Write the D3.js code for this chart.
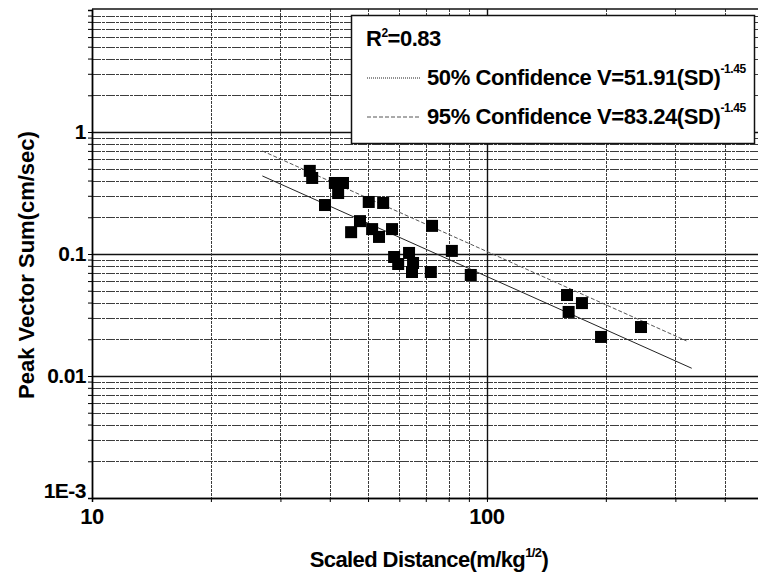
<!DOCTYPE html>
<html>
<head>
<meta charset="utf-8">
<script src="https://cdn.jsdelivr.net/npm/d3@7"></script>
<style>
  body { margin: 0; background: #fff; }
  text { font-family: "Liberation Sans", Arial, sans-serif; fill: #000; }
</style>
</head>
<body>
<script>
// scaled distance (m/kg^1/2) and peak vector sum (cm/sec)
var sdValues = [35.6, 36.1, 41.2, 43.2, 42.0, 38.9, 50.2, 54.6, 47.7, 45.3, 51.2, 53.3, 57.5,
                72.6, 81.5, 58.2, 59.6, 63.5, 65.0, 64.6, 72.1, 91.0, 159.5, 174, 161, 194.5, 245.5];
var pvsValues = [0.48, 0.42, 0.382, 0.382, 0.316, 0.252, 0.267, 0.262, 0.186, 0.151, 0.160, 0.138, 0.160,
                 0.170, 0.106, 0.0945, 0.0828, 0.102, 0.0844, 0.0712, 0.0712, 0.0673, 0.0461, 0.0396, 0.0335, 0.0209, 0.0252];

// fit lines V = k * SD^b, from the legend
var fitNames = ["50% Confidence V=51.91(SD)", "95% Confidence V=83.24(SD)"];
var fitK = [51.91, 83.24];
var fitB = [-1.45, -1.45];
var fitRange = [[27, 330], [27, 320]];

var xTickVals = [10, 100];
var xTickLabels = ["10", "100"];
var yTickVals = [0.001, 0.01, 0.1, 1];
var yTickLabels = ["1E-3", "0.01", "0.1", "1"];

var width = 758, height = 576;
var plotLeft = 92, plotTop = 9, plotBottom = 498;

var svg = d3.select("body").append("svg")
    .attr("width", width)
    .attr("height", height);

var x = d3.scaleLog().domain([10, 500]).range([plotLeft, 763]);
var y = d3.scaleLog().domain([0.001, 10]).range([plotBottom, 10]);

// minor values for the grid
var xMinor = [], yMinor = [];
[10, 100].forEach(function(d) {
    for (var i = 1; i < 10; i++) if (d * i <= 500) xMinor.push(d * i);
});
[0.001, 0.01, 0.1, 1].forEach(function(d) {
    for (var i = 1; i < 10; i++) yMinor.push(+(d * i).toPrecision(3));
});

function isMajor(list, d) { return list.indexOf(d) >= 0; }

var grid = svg.append("g");
grid.selectAll("line.hy")
    .data(yMinor)
    .enter().append("line")
    .attr("class", "hy")
    .attr("x1", plotLeft).attr("x2", width)
    .attr("y1", function(d) { return Math.round(y(d)) + 0.5; })
    .attr("y2", function(d) { return Math.round(y(d)) + 0.5; })
    .attr("stroke", function(d) { return isMajor(yTickVals, d) ? "#111" : "#3c3c3c"; })
    .attr("stroke-width", function(d) { return isMajor(yTickVals, d) ? 1.4 : 1; })
    .attr("stroke-dasharray", function(d) { return isMajor(yTickVals, d) ? null : "9,1,3,1"; });

grid.selectAll("line.vx")
    .data(xMinor)
    .enter().append("line")
    .attr("class", "vx")
    .attr("y1", plotTop).attr("y2", plotBottom)
    .attr("x1", function(d) { return Math.round(x(d)) + 0.5; })
    .attr("x2", function(d) { return Math.round(x(d)) + 0.5; })
    .attr("stroke", function(d) { return isMajor(xTickVals, d) ? "#111" : "#3c3c3c"; })
    .attr("stroke-width", function(d) { return isMajor(xTickVals, d) ? 1.4 : 1; })
    .attr("stroke-dasharray", function(d) { return isMajor(xTickVals, d) ? null : "3,1"; });

// top border
svg.append("line")
    .attr("x1", plotLeft).attr("x2", width)
    .attr("y1", plotTop).attr("y2", plotTop)
    .attr("stroke", "#111").attr("stroke-width", 1.5);

// axes
var yAxis = d3.axisLeft(y).tickValues(yMinor).tickSize(4).tickFormat("");
svg.append("g")
    .attr("transform", "translate(" + plotLeft + ",0)")
    .call(yAxis)
    .call(function(g) {
        g.select(".domain").attr("stroke-width", 1.5);
    });

var xAxis = d3.axisBottom(x).tickValues(xMinor).tickSize(4).tickFormat("");
svg.append("g")
    .attr("transform", "translate(0," + plotBottom + ")")
    .call(xAxis)
    .call(function(g) {
        g.select(".domain").attr("stroke-width", 1.5);
    });

svg.selectAll("text.ylab")
    .data(yTickVals)
    .enter().append("text")
    .attr("class", "ylab")
    .attr("x", plotLeft - 6)
    .attr("y", function(d, i) { return y(d) + (i == 0 ? 0 : 7); })
    .attr("text-anchor", "end")
    .style("font-size", "21px").style("font-weight", "bold")
    .style("letter-spacing", "-0.5px")
    .text(function(d, i) { return yTickLabels[i]; });

svg.selectAll("text.xlab")
    .data(xTickVals)
    .enter().append("text")
    .attr("class", "xlab")
    .attr("x", function(d) { return x(d); })
    .attr("y", plotBottom + 26)
    .attr("text-anchor", "middle")
    .style("font-size", "22px").style("font-weight", "bold")
    .style("letter-spacing", "-0.5px")
    .text(function(d, i) { return xTickLabels[i]; });

// axis titles
var xt = svg.append("text")
    .attr("x", 429).attr("y", 567)
    .attr("text-anchor", "middle")
    .style("font-size", "22px").style("font-weight", "bold")
    .style("letter-spacing", "-0.6px");
xt.append("tspan").text("Scaled Distance(m/kg");
xt.append("tspan").attr("dy", -10).style("font-size", "13px").text("1/2");
xt.append("tspan").attr("dy", 10).text(")");

svg.append("text")
    .attr("transform", "translate(34,265) rotate(-90)")
    .attr("text-anchor", "middle")
    .style("font-size", "22px").style("font-weight", "bold")
    .text("Peak Vector Sum(cm/sec)");

// fit lines
var line = d3.line()
    .x(function(d) { return x(d[0]); })
    .y(function(d) { return y(d[1]); });
var fitDash = [null, "4,2"];
var fitColor = ["#222", "#555"];

fitK.forEach(function(k, i) {
    var pts = fitRange[i].map(function(sd) { return [sd, k * Math.pow(sd, fitB[i])]; });
    svg.append("path")
        .datum(pts)
        .attr("d", line)
        .attr("fill", "none")
        .attr("stroke", fitColor[i])
        .attr("stroke-width", 1)
        .attr("stroke-dasharray", fitDash[i]);
});

// data points
svg.append("g")
    .selectAll("rect")
    .data(sdValues)
    .enter().append("rect")
    .attr("x", function(d) { return x(d) - 6; })
    .attr("y", function(d, i) { return y(pvsValues[i]) - 6; })
    .attr("width", 12)
    .attr("height", 12)
    .attr("fill", "#000");

// legend
var lg = svg.append("g");
lg.append("rect")
    .attr("x", 351.5).attr("y", 15.5)
    .attr("width", 403).attr("height", 128)
    .attr("fill", "#fff")
    .attr("stroke", "#111").attr("stroke-width", 1.5);

var r2 = lg.append("text")
    .attr("x", 366).attr("y", 46)
    .style("font-size", "22px").style("font-weight", "bold")
    .style("letter-spacing", "-0.5px");
r2.append("tspan").text("R");
r2.append("tspan").attr("dy", -9).style("font-size", "12px").text("2");
r2.append("tspan").attr("dy", 9).text("=0.83");

fitNames.forEach(function(name, i) {
    var yy = 78 + i * 39;
    lg.append("line")
        .attr("x1", 367).attr("x2", 420)
        .attr("y1", yy).attr("y2", yy)
        .attr("stroke", fitColor[i])
        .attr("stroke-width", 1)
        .attr("stroke-dasharray", fitDash[i] ? "4,2" : "1,1");
    var t = lg.append("text")
        .attr("x", 427).attr("y", yy + 7)
        .style("font-size", "22px").style("font-weight", "bold")
        .style("letter-spacing", "-0.4px");
    t.append("tspan").text(name);
    t.append("tspan").attr("dy", -12).style("font-size", "12px").text(String(fitB[i]));
});
</script>
</body>
</html>
